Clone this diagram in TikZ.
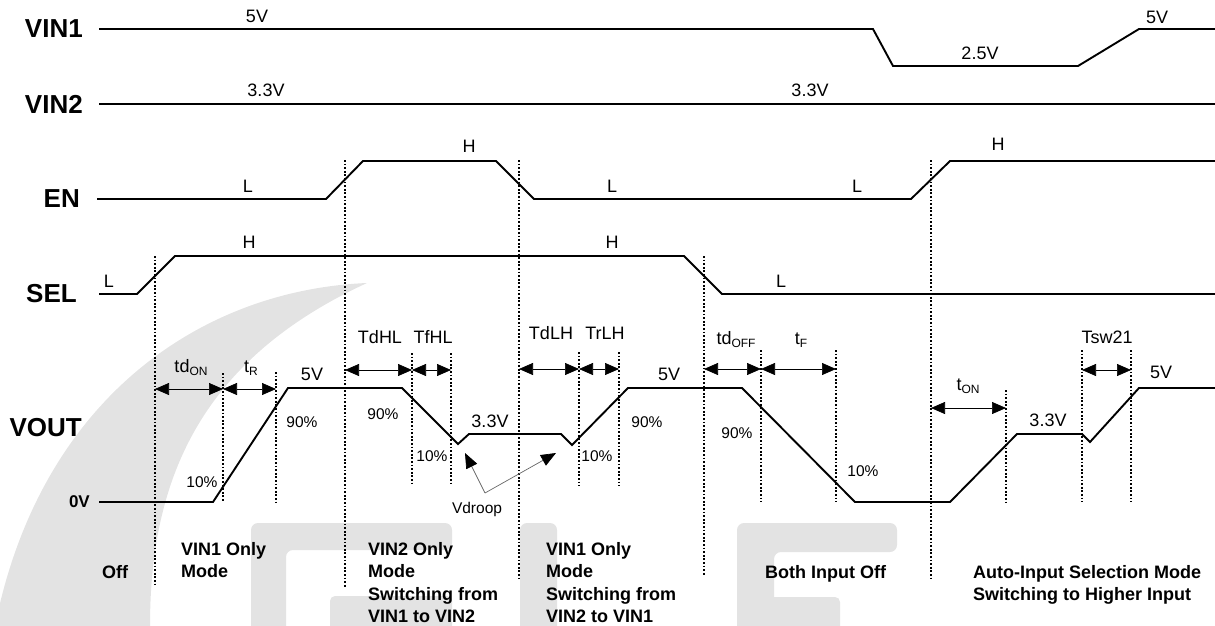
\documentclass[tikz,border=0pt]{standalone}
\usepackage{fontspec}
\setmainfont{Liberation Sans}
\usetikzlibrary{arrows.meta}
\newcommand\subl[1]{\raisebox{-3.5pt}{\fontsize{12}{12}\selectfont #1}}
\begin{document}
\begin{tikzpicture}[x=1pt,y=-1pt,
  sig/.style={line width=1.9pt, line join=miter},
  dotv/.style={line width=1.3pt, dash pattern=on 1.8pt off 1.8pt},
  dim/.style={line width=0.7pt, {Triangle[length=14pt,width=12pt]}-{Triangle[length=14pt,width=12pt]}},
  droop/.style={line width=0.7pt, draw=black!60, -{Triangle[length=15pt,width=12pt,color=black]}},
  big/.style={font=\fontsize{26}{30}\selectfont\bfseries, anchor=east, inner sep=0},
  zero/.style={font=\fontsize{17}{20}\selectfont\bfseries, anchor=east, inner sep=0},
  lvl/.style={font=\fontsize{18}{20}\selectfont, inner sep=0},
  pct/.style={font=\fontsize{15.5}{18}\selectfont, inner sep=0},
  tim/.style={font=\fontsize{18}{20}\selectfont, inner sep=0},
  modetxt/.style={font=\fontsize{18}{22.5}\selectfont\bfseries, align=left, anchor=north west, inner sep=0},
  wm/.style={fill=black!11, draw=none},
]
\useasboundingbox (0,0) rectangle (1215,626);

% ---------- watermark ----------
\fill[wm] (367,283) .. controls (200,290) and (40,400) .. (-5,626) -- (150,626)
   .. controls (150,480) and (200,360) .. (367,283) -- cycle;
\fill[wm, rounded corners=7pt] (251,523) -- (452,523) -- (452,550) -- (286,550) -- (286,640) -- (251,640) -- cycle;
\fill[wm, rounded corners=5pt] (330,596) rectangle (452,640);
\fill[wm, rounded corners=7pt] (520,523) rectangle (557,640);
\fill[wm, rounded corners=7pt] (737,523) -- (897,523) -- (897,552) -- (774,552) -- (774,640) -- (737,640) -- cycle;
\fill[wm, rounded corners=5pt] (760,597) rectangle (840,640);

% ---------- signal names ----------
\node[big] (nVIN1) at (83,29) {VIN1};
\node[big] (nVIN2) at (83,104) {VIN2};
\node[big] (nEN) at (80,199) {EN};
\node[big] (nSEL) at (77,294) {SEL};
\node[big] (nVOUT) at (82,428) {VOUT};
\node[zero] (n0V) at (90,502) {0V};

% ---------- waveforms ----------
\draw[sig] (99,29) -- (873,29) -- (893,66) -- (1078,66) -- (1139,29) -- (1215,29);
\node[lvl] (v1a) at (257,16) {5V};
\node[lvl] (v1b) at (980,53) {2.5V};
\node[lvl] (v1c) at (1157,17) {5V};

\draw[sig] (99,104) -- (1215,104);
\node[lvl] (v2a) at (266,90) {3.3V};
\node[lvl] (v2b) at (810,90) {3.3V};

\draw[sig] (97,199) -- (326,199) -- (363,161) -- (496,161) -- (534,199) -- (911,199) -- (950,161) -- (1215,161);
\node[lvl] (ena) at (248,186) {L};
\node[lvl] (enb) at (469,146) {H};
\node[lvl] (enc) at (612,186) {L};
\node[lvl] (end) at (857,186) {L};
\node[lvl] (ene) at (998,144) {H};

\draw[sig] (99,294) -- (137,294) -- (175,256) -- (684,256) -- (722,294) -- (1215,294);
\node[lvl] (sla) at (109,281) {L};
\node[lvl] (slb) at (249,242) {H};
\node[lvl] (slc) at (612,242) {H};
\node[lvl] (sld) at (781,281) {L};

\draw[sig] (99,502) -- (213,502) -- (288,388) -- (402,388) -- (458,444) -- (469,434) -- (561,434)
  -- (572,445) -- (628,388) -- (742,388) -- (855,502) -- (950,502) -- (1017,434) -- (1082,434)
  -- (1090,442) -- (1139,388) -- (1215,388);

% ---------- dotted markers ----------
\foreach \x/\a/\b in {155/256/586, 345/160/587, 519/160/578, 704/256/575, 931/160/578,
   223/373/502, 276/372/502, 412/353/483, 451/353/483, 579/352/486, 619/352/486,
   761/350/502, 836/350/502, 1006/390/502, 1082/350/502, 1131/350/502}
  \draw[dotv] (\x,\a) -- (\x,\b);

% ---------- dimension arrows ----------
\coordinate (a1) at (155,389); \coordinate (a2) at (223,389); \coordinate (a3) at (276,389);
\coordinate (b1) at (345,370); \coordinate (b2) at (412,370); \coordinate (b3) at (451,370);
\coordinate (c1) at (519,369); \coordinate (c2) at (579,369); \coordinate (c3) at (619,369);
\coordinate (e1) at (704,369); \coordinate (e2) at (761,369); \coordinate (e3) at (836,369);
\coordinate (f1) at (931,408); \coordinate (f2) at (1006,408);
\coordinate (g1) at (1082,370); \coordinate (g2) at (1131,370);
\draw[dim] (a1) -- (a2); \draw[dim] (a2) -- (a3);
\draw[dim] (b1) -- (b2); \draw[dim] (b2) -- (b3);
\draw[dim] (c1) -- (c2); \draw[dim] (c2) -- (c3);
\draw[dim] (e1) -- (e2); \draw[dim] (e2) -- (e3);
\draw[dim] (f1) -- (f2);
\draw[dim] (g1) -- (g2);

\node[tim, anchor=base] (ttdon) at (191,372) {td\subl{ON}};
\node[tim, anchor=base] (ttr) at (251,372) {t\subl{R}};
\node[tim] (ttdhl) at (380,337) {TdHL};
\node[tim] (ttfhl) at (433,337) {TfHL};
\node[tim] (ttdlh) at (551,333) {TdLH};
\node[tim] (ttrlh) at (605,333) {TrLH};
\node[tim, anchor=base] (ttdoff) at (736,344) {td\subl{OFF}};
\node[tim, anchor=base] (ttf) at (801,344) {t\subl{F}};
\node[tim, anchor=base] (tton) at (968,390) {t\subl{ON}};
\node[tim] (ttsw) at (1107,337) {Tsw21};

% ---------- VOUT levels ----------
\node[lvl] (o1) at (312,374) {5V};
\node[lvl] (o2) at (490,421) {3.3V};
\node[lvl] (o3) at (669,374) {5V};
\node[lvl] (o4) at (1048,420) {3.3V};
\node[lvl] (o5) at (1161,372) {5V};

\node[pct] (p1) at (302,422) {90\%};
\node[pct] (p2) at (383,414) {90\%};
\node[pct] (p3) at (202,482) {10\%};
\node[pct] (p4) at (432,456) {10\%};
\node[pct] (p5) at (597,456) {10\%};
\node[pct] (p6) at (647,422) {90\%};
\node[pct] (p7) at (737,433) {90\%};
\node[pct] (p8) at (863,471) {10\%};

% ---------- Vdroop ----------
\node[pct] (vdroop) at (477,509) {Vdroop};
\coordinate (vdj) at (485,493);
\coordinate (vdl) at (465,453);
\coordinate (vdr) at (556,453);
\draw[droop] (vdj) -- (vdl);
\draw[droop] (vdj) -- (vdr);

% ---------- mode labels ----------
\node[modetxt, anchor=base west] (m0) at (102,578) {Off};
\node[modetxt] (m1) at (181,542) {VIN1 Only\\Mode};
\node[modetxt] (m2) at (368,542) {VIN2 Only\\Mode\\Switching from\\VIN1 to VIN2};
\node[modetxt] (m3) at (546,542) {VIN1 Only\\Mode\\Switching from\\VIN2 to VIN1};
\node[modetxt, anchor=base west] (m4) at (765,578) {Both Input Off};
\node[modetxt] (m5) at (973,565) {Auto-Input Selection Mode\\Switching to Higher Input};
\end{tikzpicture}
\end{document}
